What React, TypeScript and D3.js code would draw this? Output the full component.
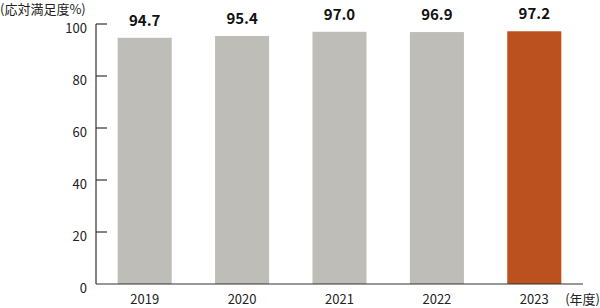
import React from "react";
import * as d3 from "d3";

const years = ["2019", "2020", "2021", "2022", "2023"];
const values = [94.7, 95.4, 97.0, 96.9, 97.2];
const yTicks = [0, 20, 40, 60, 80, 100];

const W = 600;
const H = 308;
const FONT = "'Noto Sans CJK JP', 'Noto Sans', sans-serif";

export default function App() {
  const x = d3.scaleBand<string>().domain(years).range([96, 583]).paddingInner(0.445).paddingOuter(0.2225);
  const y = d3.scaleLinear().domain([0, 100]).range([284, 24]);
  const gray = "#bfbdb7";
  const accent = "#bc5120";
  const axisColor = "#333";
  return (
    <svg width={W} height={H} style={{ position: "absolute", left: 0, top: 0, display: "block" }}>
      <text x={0} y={13.5} fontFamily={FONT} fontSize={13} fill="#222">(応対満足度%)</text>
      {values.map((v, i) => (
        <rect
          key={years[i]}
          x={x(years[i])}
          y={y(v)}
          width={x.bandwidth()}
          height={y(0) - y(v)}
          fill={i === values.length - 1 ? accent : gray}
        />
      ))}
      {values.map((v, i) => (
        <text
          key={"l" + i}
          x={(x(years[i]) as number) + x.bandwidth() / 2}
          y={y(v) - 12}
          textAnchor="middle"
          fontFamily={FONT}
          fontWeight="bold"
          fontSize={15}
          fill="#111"
        >
          {v.toFixed(1)}
        </text>
      ))}
      <line x1={96} x2={96} y1={y(100)} y2={y(0)} stroke={axisColor} strokeWidth={1.2} />
      <line x1={96} x2={583} y1={y(0)} y2={y(0)} stroke={axisColor} strokeWidth={1.2} />
      {yTicks.map((t) => (
        <g key={t}>
          {t > 0 && <line x1={96} x2={107} y1={y(t)} y2={y(t)} stroke={axisColor} strokeWidth={1.2} />}
          <text x={87} y={y(t) + 4} dy="0.35em" textAnchor="end" fontFamily={FONT} fontSize={13} fill="#222">
            {t}
          </text>
        </g>
      ))}
      {years.map((yr) => (
        <text
          key={yr}
          x={(x(yr) as number) + x.bandwidth() / 2}
          y={304}
          textAnchor="middle"
          fontFamily={FONT}
          fontSize={13}
          fill="#222"
        >
          {yr}
        </text>
      ))}
      <text x={600} y={304} textAnchor="end" fontFamily={FONT} fontSize={13} fill="#222">(年度)</text>
    </svg>
  );
}
